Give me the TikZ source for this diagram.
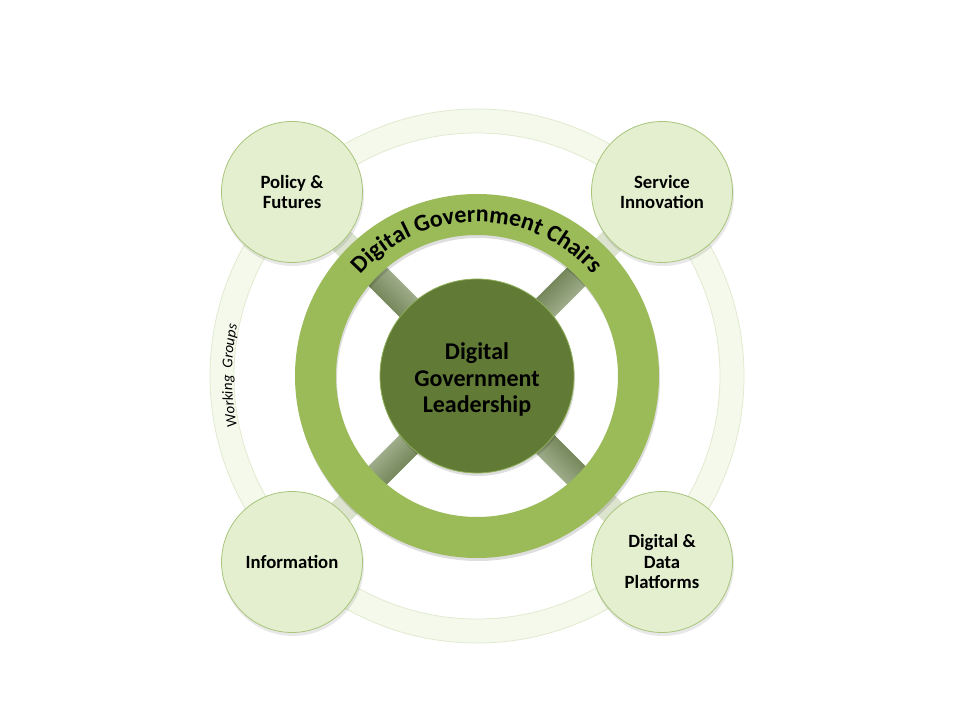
\documentclass[tikz,border=0pt]{standalone}
\usepackage{fontspec}
\setmainfont{Carlito}
\usetikzlibrary{decorations.text,calc}
\definecolor{ringg}{HTML}{9BBB59}
\definecolor{hubg}{HTML}{617A36}
\definecolor{hubrim}{HTML}{8FAE58}
\definecolor{cornerfill}{HTML}{E3EFCF}
\definecolor{cornerline}{HTML}{A9C57C}
\definecolor{outerfill}{HTML}{F5F9EC}
\definecolor{outerline}{HTML}{E1EACF}
\definecolor{bardark}{HTML}{5E7240}
\definecolor{barlight}{HTML}{B5C2A4}
\definecolor{palebar}{HTML}{DCE4CF}
\tikzset{
  cornerbox/.style={circle, minimum size=141pt, inner sep=0pt, fill=cornerfill, draw=cornerline, line width=0.8pt, align=center, font=\bfseries\fontsize{18.7}{20.5}\selectfont},
  hubbox/.style={circle, minimum size=194pt, inner sep=0pt, fill=hubg, draw=hubrim, line width=0.8pt, align=center, font=\bfseries\fontsize{24}{26.5}\selectfont},
  softshadow/.style={fill=black, opacity=0.13}
}
\begin{document}
\begin{tikzpicture}[x=1pt,y=1pt]
\useasboundingbox (0,0) rectangle (960,720);
\coordinate (C) at (477,344);
\coordinate (pfc) at (292,528);
\coordinate (sic) at (662,528);
\coordinate (inc) at (292,158);
\coordinate (ddc) at (662,158);

% outer working-groups ring
\path[fill=outerfill, draw=outerline, line width=0.8pt, even odd rule] (C) circle (267) (C) circle (243);

% pale links from ring to corner circles
\foreach \a in {45,135,225,315}{
  \fill[palebar] ($(C)+(\a:168)+({\a+90}:13)$) -- ($(C)+(\a:205)+({\a+90}:13)$) -- ($(C)+(\a:205)+({\a-90}:13)$) -- ($(C)+(\a:168)+({\a-90}:13)$) -- cycle;
}

% corner circle shadows
\foreach \p in {pfc,sic,inc,ddc}{
  \fill[softshadow, opacity=0.09] ($(\p)+(1,-3)$) circle (71);
}

% corner circles
\node[cornerbox] (pf) at (pfc) {Policy \&\\Futures};
\node[cornerbox] (si) at (sic) {Service\\Innovation};
\node[cornerbox] (in) at (inc) {Information};
\node[cornerbox] (dd) at (ddc) {Digital \&\\Data\\Platforms};

% spokes between hub and ring
\foreach \a in {45,135,225,315}{
  \shade[left color=bardark, right color=barlight, shading angle=\a] ($(C)+(\a:92)+({\a+90}:13)$) -- ($(C)+(\a:145)+({\a+90}:13)$) -- ($(C)+(\a:145)+({\a-90}:13)$) -- ($(C)+(\a:92)+({\a-90}:13)$) -- cycle;
}

% green ring with shadow
\path[softshadow, even odd rule] ($(C)+(1,-3)$) circle (182) ($(C)+(1,-3)$) circle (141);
\path[fill=ringg, even odd rule] (C) circle (182) (C) circle (141);

% hub
\fill[softshadow] ($(C)+(1,-3)$) circle (97);
\node[hubbox] (hub) at (C) {\raisebox{-5pt}[\height][\depth]{\begin{tabular}{@{}c@{}}Digital\\Government\\Leadership\end{tabular}}};

% curved labels
\path[decorate, decoration={text along path, text align=center,
  text={|\bfseries\fontsize{24}{24}\selectfont|Digital Government Chairs}}]
  ($(C)+(180:154)$) arc[start angle=180, end angle=0, radius=154];
\path[decorate, decoration={text along path, text align=center,
  text={|\itshape\fontsize{15}{15}\selectfont|Working{ }{ }Groups}}]
  ($(C)+(202:245)$) arc[start angle=202, end angle=158, radius=245];
\end{tikzpicture}
\end{document}
